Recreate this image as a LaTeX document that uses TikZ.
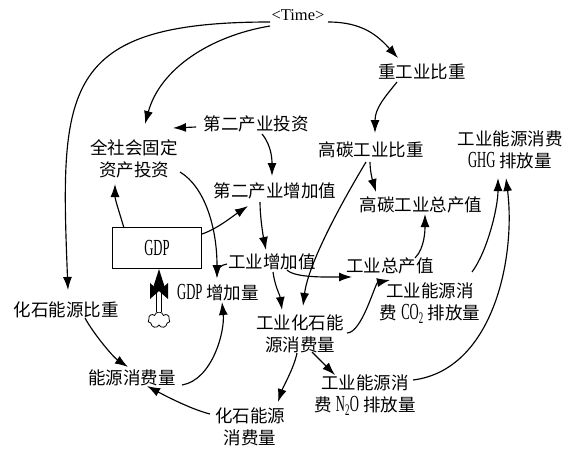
\documentclass[tikz,border=0pt]{standalone}
\usepackage{fontspec}
\setmainfont{Liberation Serif}
\newfontfamily\cjk{Noto Sans CJK SC}
\newfontfamily\lat{Liberation Serif}[FakeStretch=0.55]
\newfontfamily\latn{Liberation Serif}
\newcommand{\ltx}[1]{{\lat\fontsize{23}{22}\selectfont #1}}
\usetikzlibrary{arrows.meta,calc,shapes.symbols}
\tikzset{
  lbl/.style={font=\cjk\fontsize{17.5}{22}\selectfont, align=center, inner sep=1pt},
  conn/.style={line width=1.15pt, -{Latex[length=13pt,width=9pt]}},
}
\begin{document}
\begin{tikzpicture}[x=1pt,y=1pt]
\useasboundingbox (0,0) rectangle (572,451);
% nodes
\node[font=\latn\fontsize{16.5}{18}\selectfont, inner sep=1pt] (time) at (298,436) {<Time>};
\node[lbl] (heavy) at (422,379) {重工业比重};
\node[lbl] (inv2) at (256,327) {第二产业投资};
\node[lbl] (fixinv) at (134,292) {全社会固定\\资产投资};
\node[lbl] (highc) at (371,301) {高碳工业比重};
\node[lbl] (ghg) at (510,301) {工业能源消费\\\ltx{GHG} 排放量};
\node[lbl] (va2) at (275,260) {第二产业增加值};
\node[lbl] (highout) at (421,246) {高碳工业总产值};
\node[draw, line width=1.1pt, minimum width=89pt, minimum height=41pt, inner sep=0pt,
      font=\lat\fontsize{23}{22}\selectfont] (gdp) at (157,203) {GDP};
\node[lbl] (iva) at (272,189) {工业增加值};
\node[lbl] (iout) at (390,185) {工业总产值};
\node[lbl] (gdpinc) at (218,158) {\ltx{GDP} 增加量};
\node[lbl] (fossr) at (66,141) {化石能源比重};
\node[lbl] (co2) at (430,148) {工业能源消\\费 \ltx{CO\textsubscript{2}} 排放量};
\node[lbl] (ifos) at (300,117) {工业化石能\\源消费量};
\node[lbl] (energy) at (132,73) {能源消费量};
\node[lbl] (n2o) at (365,56) {工业能源消\\费 \ltx{N\textsubscript{2}O} 排放量};
\node[lbl] (fos) at (250,24) {化石能源\\消费量};
% flow into GDP
\node[cloud, draw, cloud puffs=7, minimum width=22pt, minimum height=16pt, inner sep=0pt, line width=0.8pt] (src) at (159,131) {};
\coordinate (valve) at (159,160);
\draw[double distance=3.5pt, line width=0.8pt] (src.north) -- ($(gdp.south -| src)+(0,-16)$);
\fill ($(valve)+(-9,8)$) -- ($(valve)+(-9,-8)$) -- (valve) -- cycle;
\fill ($(valve)+(9,8)$) -- ($(valve)+(9,-8)$) -- (valve) -- cycle;
\fill (gdp.south -| src) -- ($(gdp.south -| src)+(-7,-22)$) -- ($(gdp.south -| src)+(7,-22)$) -- cycle;
% connectors
\draw[conn] ($(time)+(-28,-11)$) .. controls +(-60,-10) and +(15,55) .. ($(fixinv)+(11,35)$);
\draw[conn] ($(time)+(-28,-7)$) .. controls +(-210,0) and +(-8,200) .. ($(fossr)+(2,20)$);
\draw[conn] ($(time)+(30,-7)$) .. controls +(35,0) and +(-20,22) .. ($(heavy)+(-24,14)$);
\draw[conn] ($(heavy)+(-25,-10)$) .. controls +(-12,-15) and +(0,25) .. ($(highc)+(4,17)$);
\draw[conn] ($(inv2)+(-60,-3)$) -- ($(fixinv)+(39,31)$);
\draw[conn] ($(inv2)+(6,-10)$) .. controls +(10,-12) and +(0,15) .. ($(va2)+(-3,15)$);
\draw[conn] ($(gdp)+(-33,20)$) .. controls +(-6,20) and +(0,-15) .. ($(fixinv)+(-19,-25)$);
\draw[conn] ($(fixinv)+(46,-13)$) .. controls +(25,-15) and +(0,50) .. ($(gdpinc)+(-1,15)$);
\draw[conn] ($(gdp)+(45,14)$) .. controls +(15,5) and +(-15,-10) .. ($(va2)+(-27,-15)$);
\draw[conn] ($(iva)+(-45,-2)$) .. controls +(-6,0) and +(0,6) .. ($(gdpinc)+(-1,15)$);
\draw[conn] ($(va2)+(-15,-11)$) .. controls +(0,-15) and +(-3,15) .. ($(iva)+(-6,12)$);
\draw[conn] ($(iva)+(1,-10)$) .. controls +(2,-15) and +(-2,15) .. ($(ifos)+(-18,24)$);
\draw[conn] ($(iva)+(15,-8)$) .. controls +(8,-8) and +(-25,0) .. ($(iout)+(-38,-11)$);
\draw[conn] ($(iout)+(25,8)$) .. controls +(10,10) and +(0,-15) .. ($(highout)+(4,-9)$);
\draw[conn] ($(highc)+(-1,-12)$) .. controls +(0,-10) and +(-3,10) .. ($(highout)+(-45,13)$);
\draw[conn] ($(highc)+(-5,-12)$) .. controls +(-30,-50) and +(5,40) .. ($(ifos)+(3,28)$);
\draw[conn] ($(ifos)+(47,1)$) .. controls +(15,0) and +(-15,-3) .. ($(co2)+(-40,23)$);
\draw[conn] ($(ifos)+(12,-18)$) -- ($(n2o)+(-30,20)$);
\draw[conn] ($(ifos)+(-3,-19)$) .. controls +(-3,-15) and +(5,15) .. ($(fos)+(28,25)$);
\draw[conn] ($(fos)+(-40,13)$) .. controls +(-20,5) and +(15,-8) .. ($(energy)+(15,-8)$);
\draw[conn] ($(fossr)+(19,-8)$) .. controls +(8,-15) and +(-15,10) .. ($(energy)+(-4,11)$);
\draw[conn] ($(energy)+(50,-7)$) .. controls +(30,5) and +(3,-30) .. ($(gdpinc)+(4,-9)$);
\draw[conn] ($(co2)+(42,31)$) .. controls +(15,20) and +(0,-30) .. ($(ghg)+(-12,-28)$);
\draw[conn] ($(n2o)+(48,15)$) .. controls +(80,10) and +(10,-80) .. ($(ghg)+(-4,-28)$);
\end{tikzpicture}
\end{document}
